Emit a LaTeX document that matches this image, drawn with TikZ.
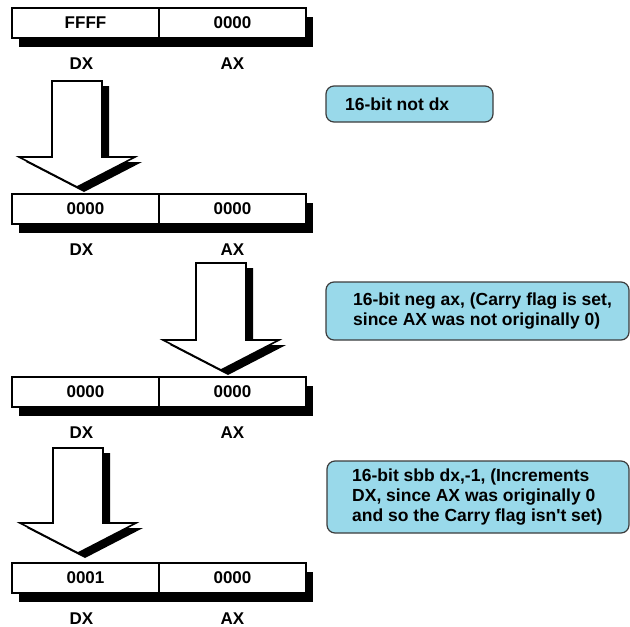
\documentclass[tikz,border=0pt]{standalone}
\usepackage{fontspec}
\setmainfont{Liberation Sans}[Ligatures=TeXOff]
\usetikzlibrary{positioning}

\definecolor{notefill}{RGB}{153,217,234}
\definecolor{noteline}{RGB}{60,60,60}

\newcommand\regfont{\bfseries\fontsize{17}{19}\selectfont}
\newcommand\notefont{\bfseries\fontsize{17.5}{19.8}\selectfont}

\tikzset{
  cell/.style={draw, line width=1.2pt, fill=white, minimum width=147pt,
    minimum height=30pt, inner sep=0pt, outer sep=0pt, font=\regfont},
  reglabel/.style={inner sep=0pt, font=\regfont},
  callout/.style={draw=noteline, fill=notefill, line width=1.2pt,
    rounded corners=8pt, inner sep=0pt, outer sep=0pt},
  notetext/.style={align=left, inner sep=0pt, font=\notefont},
  bigarrow/.style={draw, line width=1.6pt, fill=white, line join=miter},
}

% block arrow: centre x, top y, tip y
\newcommand\blockarrow[3]{%
  \fill[shift={(7,5)}] (#1-25,#2) -- (#1+25,#2) -- (#1+25,#3-30) -- (#1+58,#3-30)
    -- (#1,#3) -- (#1-58,#3-30) -- (#1-25,#3-30) -- cycle;
  \draw[bigarrow] (#1-25,#2) -- (#1+25,#2) -- (#1+25,#3-30) -- (#1+58,#3-30)
    -- (#1,#3) -- (#1-58,#3-30) -- (#1-25,#3-30) -- cycle;
}

\begin{document}
\begin{tikzpicture}[x=1pt, y=-1pt]
  \useasboundingbox[fill=white] (0,0) rectangle (630,627);

  % registers
  \foreach \y/\d/\a/\n in {8/FFFF/0000/1, 194/0000/0000/2, 377/0000/0000/3, 563/0001/0000/4} {
    \fill (19,\y+9) rectangle (313,\y+39);
    \node[cell, anchor=north west] (dx\n) at (12,\y) {\d};
    \node[cell, right=0pt of dx\n] (ax\n) {\a};
    \node[reglabel] (dxl\n) at ([xshift=-4pt, yshift=-26pt]dx\n.south) {DX};
    \node[reglabel] (axl\n) at ([yshift=-26pt]ax\n.south) {AX};
  }

  % arrows
  \blockarrow{77}{81}{187}
  \blockarrow{221}{263}{370}
  \blockarrow{78}{448}{553}

  % notes
  \node[callout, anchor=north west, minimum width=167pt, minimum height=36pt] (note1) at (326,86) {};
  \node[notetext, anchor=west] (text1) at ([xshift=19pt]note1.west) {16-bit not dx};

  \node[callout, anchor=north west, minimum width=303pt, minimum height=58pt] (note2) at (326,282) {};
  \node[notetext, anchor=west] (text2) at ([xshift=27pt]note2.west)
    {16-bit neg ax, (Carry flag is set,\\since AX was not originally 0)};

  \node[callout, anchor=north west, minimum width=302pt, minimum height=72pt] (note3) at (327,461) {};
  \node[notetext, anchor=west] (text3) at ([xshift=25pt]note3.west)
    {16-bit sbb dx,-1, (Increments\\DX, since AX was originally 0\\and so the Carry flag isn't set)};
\end{tikzpicture}
\end{document}
